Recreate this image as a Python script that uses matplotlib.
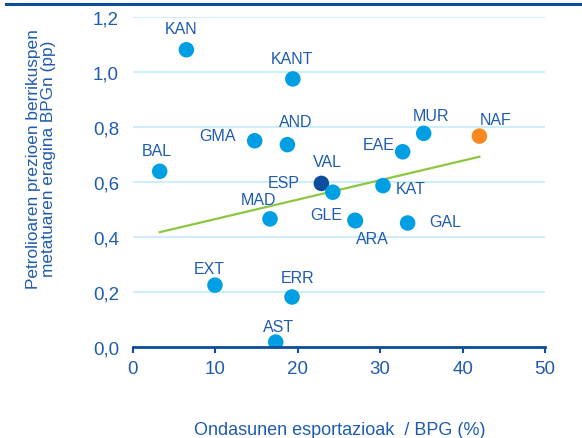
import numpy as np
import matplotlib
matplotlib.use('Agg')
import matplotlib.pyplot as plt

# data
labels = ['KAN', 'KANT', 'GMA', 'AND', 'BAL', 'MAD', 'ESP', 'VAL', 'GLE', 'ARA',
          'KAT', 'EAE', 'MUR', 'NAF', 'GAL', 'EXT', 'ERR', 'AST']
export_gdp = [6.48, 19.4, 14.77, 18.74, 3.24, 16.63, 22.86, 24.25, 26.94, 27.0,
              30.34, 32.73, 35.28, 42.04, 33.33, 9.95, 19.3, 17.32]
impact_pp = [1.082, 0.976, 0.751, 0.737, 0.640, 0.467, 0.596, 0.564, 0.462, 0.460,
             0.588, 0.711, 0.778, 0.768, 0.452, 0.226, 0.183, 0.019]
x_ticks = [0, 10, 20, 30, 40, 50]
y_ticks = [0.0, 0.2, 0.4, 0.6, 0.8, 1.0, 1.2]
# trend line as shown in the source chart
trend_slope = 0.00707
trend_intercept = 0.3957

# label offsets in points (dx, dy)
offsets = {'KAN': (-4, 15), 'KANT': (-1, 15), 'GMA': (-27, 4), 'AND': (6, 17),
           'BAL': (-2, 15), 'MAD': (-8, 14), 'ESP': (-27, 1), 'VAL': (-4, 22),
           'GLE': (-21, 4), 'ARA': (12, -13), 'KAT': (20, -2), 'EAE': (-17, 5),
           'MUR': (5, 13), 'NAF': (12, 12), 'GAL': (27, 1), 'EXT': (-4, 12),
           'ERR': (4, 14), 'AST': (2, 11)}

TXT = '#1f5cae'
DARK = '#0d4d9c'
LIGHT = '#009fe3'
ORANGE = '#f7891f'
GRID = '#cdeefa'

plt.rcParams['font.family'] = ['Liberation Sans', 'DejaVu Sans']

fig = plt.figure(figsize=(5.82, 4.39), dpi=100)
ax = fig.add_axes([0.2285, 0.2066, 0.7079, 0.7517])

colors = []
for lab in labels:
    if lab == 'ESP':
        colors.append(DARK)
    elif lab == 'NAF':
        colors.append(ORANGE)
    else:
        colors.append(LIGHT)

xs = np.array([min(export_gdp), max(export_gdp)])
ax.plot(xs, trend_intercept + trend_slope * xs, color='#8dc63f', lw=1.6, zorder=2)

ax.scatter(export_gdp, impact_pp, s=125, c=colors, zorder=3, linewidths=0)

for lab, x, y in zip(labels, export_gdp, impact_pp):
    dx, dy = offsets[lab]
    ax.annotate(lab, (x, y), xytext=(dx, dy), textcoords='offset points',
                ha='center', va='center', fontsize=11.5, color=TXT, zorder=4)

ax.set_xlim(0, 50)
ax.set_ylim(0, 1.2)
ax.set_xticks(x_ticks)
ax.set_yticks(y_ticks)
ax.set_yticklabels([f'{v:.1f}'.replace('.', ',') for v in y_ticks])
ax.yaxis.grid(True, color=GRID, lw=1.5)
ax.set_axisbelow(True)
for s in ['top', 'right', 'left']:
    ax.spines[s].set_visible(False)
ax.spines['bottom'].set_color(DARK)
ax.spines['bottom'].set_linewidth(2)
ax.spines['bottom'].set_zorder(5)
ax.tick_params(axis='x', colors=DARK, length=4, width=1.5, pad=5, labelsize=13.5,
               labelcolor=TXT)
ax.tick_params(axis='y', length=0, pad=10, labelsize=13.5, labelcolor=TXT)

fig.text(340 / 582, 1 - 431 / 439, 'Ondasunen esportazioak  / BPG (%)', ha='center',
         va='center', fontsize=13, color=TXT)
fig.text(0.071, 1 - 159 / 439,
         'Petrolioaren prezioen berrikuspen\nmetatuaren eragina BPGn (pp)',
         ha='center', va='center', rotation=90, fontsize=12.4, color=TXT,
         linespacing=1.0)

# dark rule along the top
fig.add_artist(plt.Line2D([6 / 582, 1], [1 - 5 / 439, 1 - 5 / 439],
                          color=DARK, lw=2.2))

fig.savefig('out.png', dpi=100)
